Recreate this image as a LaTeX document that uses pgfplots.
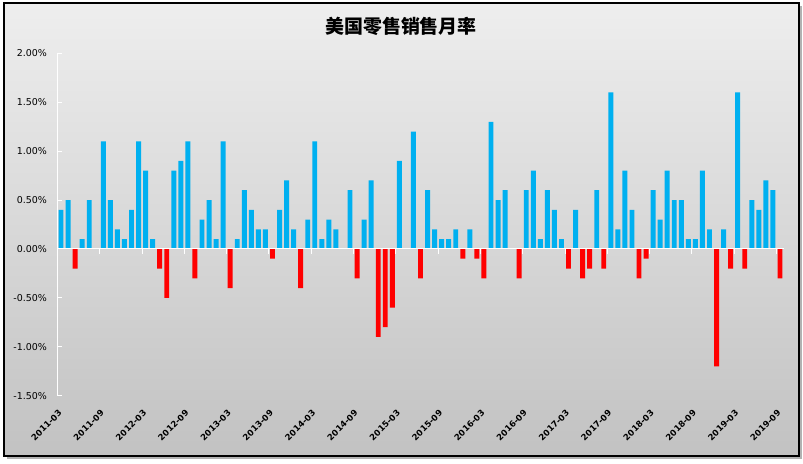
\documentclass[border=0pt]{standalone}
\usepackage{pgfplots}
\pgfplotsset{compat=1.18}
\usepackage{fontspec}
\setmainfont{DejaVu Sans}
\newfontfamily\cjk{Noto Sans CJK SC}
\definecolor{barblue}{RGB}{0,176,240}
\definecolor{barred}{RGB}{255,0,0}
\begin{document}
\begin{tikzpicture}[x=1bp,y=1bp]
\useasboundingbox (0,0) rectangle (803,464);
\fill[black!30] (7,5) rectangle (802,458);
\shade[top color={rgb,255:red,238;green,238;blue,238}, bottom color={rgb,255:red,194;green,194;blue,194}] (4,8) rectangle (799,461);
\draw[black, line width=1.3bp] (4,8) rectangle (799,461);
\node[font=\cjk\bfseries\fontsize{19}{21}\selectfont] at (401,438) {美国零售销售月率};
\begin{axis}[
  at={(57.5bp,68.3bp)}, anchor=south west,
  scale only axis, width=726bp, height=342.4bp,
  xmin=-0.5, xmax=102.5, ymin=-1.5, ymax=2,
  axis y line*=left, axis x line*=bottom,
  x axis line style={draw=none},
  y axis line style={white, line width=1bp},
  ytick={-1.5,-1,-0.5,0,0.5,1,1.5,2},
  ytick style={white, line width=1bp},
  tick align=inside, major tick length=4.5bp,
  yticklabel={\pgfmathprintnumber[fixed,fixed zerofill,precision=2,assume math mode=true]{\tick}\%},
  yticklabel style={font=\fontsize{9.5}{10}\selectfont, xshift=-7bp, text=black},
  xtick={0,6,...,102},
  xticklabels={2011-03,2011-09,2012-03,2012-09,2013-03,2013-09,2014-03,2014-09,2015-03,2015-09,2016-03,2016-09,2017-03,2017-09,2018-03,2018-09,2019-03,2019-09},
  xtick style={draw=none},
  xticklabel style={yshift=-15bp, rotate=45, anchor=east, font=\bfseries\fontsize{8.5}{10}\selectfont, inner sep=1bp},
  every axis plot/.append style={ybar, bar width=0.7, bar shift=0pt, draw=none},
  clip=false,
]
\addplot[fill=barblue] coordinates {
(0,0.4)(1,0.5)(3,0.1)(4,0.5)(6,1.1)(7,0.5)(8,0.2)(9,0.1)(10,0.4)(11,1.1)(12,0.8)(13,0.1)
(16,0.8)(17,0.9)(18,1.1)(20,0.3)(21,0.5)(22,0.1)(23,1.1)(25,0.1)(26,0.6)(27,0.4)(28,0.2)(29,0.2)
(31,0.4)(32,0.7)(33,0.2)(35,0.3)(36,1.1)(37,0.1)(38,0.3)(39,0.2)(41,0.6)(43,0.3)(44,0.7)
(48,0.9)(50,1.2)(52,0.6)(53,0.2)(54,0.1)(55,0.1)(56,0.2)(58,0.2)(61,1.3)(62,0.5)(63,0.6)
(66,0.6)(67,0.8)(68,0.1)(69,0.6)(70,0.4)(71,0.1)(73,0.4)(76,0.6)(78,1.6)(79,0.2)(80,0.8)(81,0.4)
(84,0.6)(85,0.3)(86,0.8)(87,0.5)(88,0.5)(89,0.1)(90,0.1)(91,0.8)(92,0.2)(94,0.2)(96,1.6)
(98,0.5)(99,0.4)(100,0.7)(101,0.6)
};
\addplot[fill=barred] coordinates {
(2,-0.2)(14,-0.2)(15,-0.5)(19,-0.3)(24,-0.4)(30,-0.1)(34,-0.4)(42,-0.3)(45,-0.9)(46,-0.8)
(47,-0.6)(51,-0.3)(57,-0.1)(59,-0.1)(60,-0.3)(65,-0.3)(72,-0.2)(74,-0.3)(75,-0.2)(77,-0.2)
(82,-0.3)(83,-0.1)(93,-1.2)(95,-0.2)(97,-0.2)(102,-0.3)
};
\draw[white, line width=1bp] (axis cs:-0.5,0) -- (axis cs:102.5,0);
\pgfplotsinvokeforeach{5.5,11.5,17.5,23.5,29.5,35.5,41.5,47.5,53.5,59.5,65.5,71.5,77.5,83.5,89.5,95.5,101.5}{
  \draw[white, line width=1bp] (axis cs:#1,0) -- ++(0bp,-5bp);
}
\end{axis}
\end{tikzpicture}
\end{document}
